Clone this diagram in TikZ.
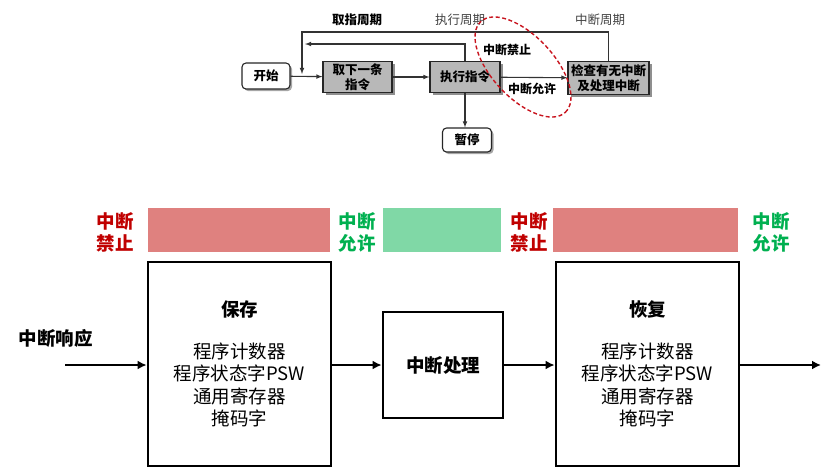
\documentclass[tikz,border=0pt]{standalone}
\usepackage{fontspec}
\setmainfont{Noto Sans CJK SC}
\usepackage{xcolor}
\usepackage{tikz}
\usetikzlibrary{calc, shadows, arrows.meta}

\definecolor{barred}{RGB}{223,129,127}
\definecolor{bargreen}{RGB}{128,216,166}
\definecolor{txtred}{RGB}{192,0,0}
\definecolor{txtgreen}{RGB}{0,176,80}
\definecolor{ringred}{RGB}{200,20,30}

\begin{document}
\begin{tikzpicture}[>=latex, x=1pt, y=-1pt,
    small/.style={font=\fontsize{12.5}{14.5}\selectfont},
    big/.style={font=\fontsize{18.5}{22.6}\selectfont},
    flow/.style={draw=black!80, line width=1.1pt},
    graybox/.style={draw=black!85, line width=1.1pt, fill=black!28, align=center, inner sep=0pt,
        drop shadow={shadow xshift=2.5pt, shadow yshift=-2.5pt, fill=black!55, opacity=0.8},
        font=\fontsize{12.5}{15}\selectfont\bfseries},
    roundbox/.style={draw=black!85, line width=1.1pt, fill=white, rounded corners=4pt, inner sep=0pt,
        drop shadow={shadow xshift=2pt, shadow yshift=-2pt, fill=black!50, opacity=0.7},
        font=\fontsize{12.5}{14.5}\selectfont\bfseries},
    tag/.style={align=center, font=\fontsize{18.5}{22}\selectfont\bfseries},
    bigbox/.style={draw, line width=2.8pt, align=center, inner sep=0pt, big},
    thickarrow/.style={line width=2.6pt, -{Latex[length=9pt, width=9pt]}}]

    \useasboundingbox (0,0) rectangle (838,475);

    % 1. Sơ đồ chu kỳ lệnh (phía trên)
    \node[roundbox, minimum width=48pt, minimum height=26pt] (start) at (266,76) {开始};
    \node[graybox, minimum width=69pt, minimum height=31pt] (fetch) at (357.5,77) {取下一条\\指令};
    \node[graybox, minimum width=70pt, minimum height=31pt] (exec) at (465,77) {执行指令};
    \node[graybox, minimum width=81pt, minimum height=33pt] (check) at (608.5,78) {检查有无中断\\及处理中断};
    \node[roundbox, minimum width=49pt, minimum height=24pt] (halt) at (467,140) {暂停};

    \coordinate (join) at (302,77);
    \coordinate (outer) at (302,32);
    \coordinate (inner) at (305,44);

    \draw[flow, ->] (start) -- (fetch);
    \draw[flow, ->] (fetch) -- (exec);
    \draw[flow, ->] (exec) -- (check);
    \draw[flow, ->] (exec.south) -- (exec.south |- halt.north);
    \draw[flow, ->] (check.north) |- (outer) -- ($(join)+(0,-3)$);
    \draw[flow, ->] (exec.north) |- (inner);

    \node[font=\fontsize{12.5}{14}\selectfont\bfseries] (lblfetch) at (357,20) {取指周期};
    \node[small, text=black!75] (lblexec) at (460,20) {执行周期};
    \node[small, text=black!75] (lblint) at (600,20) {中断周期};
    \node[font=\fontsize{12}{14}\selectfont\bfseries] (lbloff) at (507,50) {中断禁止};
    \node[font=\fontsize{12}{14}\selectfont\bfseries] (lblon) at (532,89) {中断允许};

    \draw[ringred, line width=1.4pt, dash pattern=on 4pt off 2.5pt]
        (523,67) circle[x radius=62pt, y radius=31pt, rotate=-47];

    % 2. Các dải trạng thái ngắt
    \fill[barred] (148,208) rectangle (330,252);
    \fill[bargreen] (383,208) rectangle (501,252);
    \fill[barred] (553,208) rectangle (738,252);

    \node[tag, text=txtred] (off1) at (115,232) {中断\\禁止};
    \node[tag, text=txtgreen] (on1) at (357,232) {中断\\允许};
    \node[tag, text=txtred] (off2) at (529,232) {中断\\禁止};
    \node[tag, text=txtgreen] (on2) at (771,232) {中断\\允许};

    % 3. Các khối xử lý ngắt
    \node[bigbox, minimum width=183pt, minimum height=204pt] (save) at (239.5,364)
        {\textbf{保存}\\[19pt]程序计数器\\程序状态字PSW\\通用寄存器\\掩码字};
    \node[bigbox, minimum width=120pt, minimum height=106pt, font=\fontsize{18.5}{22}\selectfont\bfseries]
        (proc) at (443,365) {中断处理};
    \node[bigbox, minimum width=183pt, minimum height=204pt] (restore) at (647.5,364)
        {\textbf{恢复}\\[19pt]程序计数器\\程序状态字PSW\\通用寄存器\\掩码字};

    \node[tag] (resp) at (56,338) {中断响应};

    \coordinate (in) at (65,365);
    \coordinate (out) at (821,365);
    \draw[thickarrow] (in) -- (in -| save.west);
    \draw[thickarrow] (save.east |- proc) -- (proc.west);
    \draw[thickarrow] (proc.east) -- (proc -| restore.west);
    \draw[thickarrow] (restore.east |- out) -- (out);
\end{tikzpicture}
\end{document}
